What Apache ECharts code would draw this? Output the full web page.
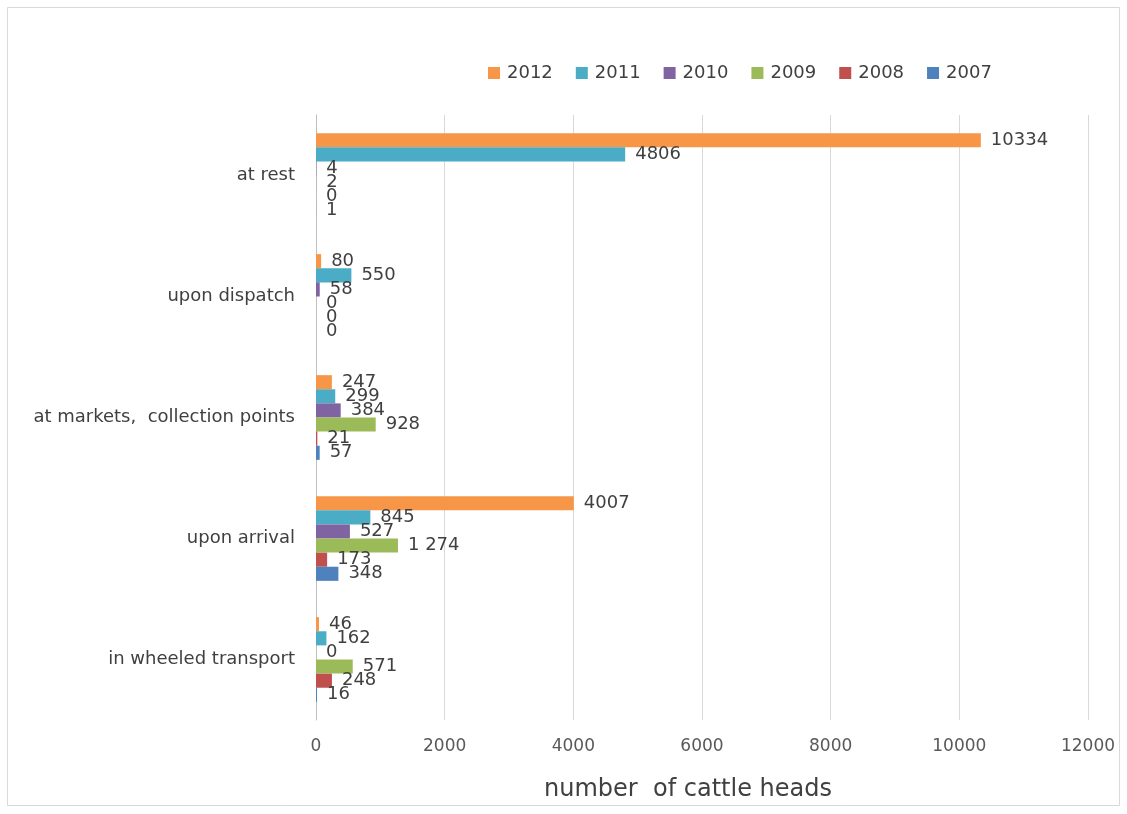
<!DOCTYPE html>
<html>
<head>
<meta charset="utf-8">
<script src="https://cdn.jsdelivr.net/npm/echarts@6/dist/echarts.min.js"></script>
<style>
html,body{margin:0;padding:0;background:#fff;}
#chart{width:1127px;height:814px;}
</style>
</head>
<body>
<div id="chart"></div>
<script>
const categories = ['at rest', 'upon dispatch', 'at markets,  collection points', 'upon arrival', 'in wheeled transport'];
const years = ['2012', '2011', '2010', '2009', '2008', '2007'];
const v2012 = [10334, 80, 247, 4007, 46];
const v2011 = [4806, 550, 299, 845, 162];
const v2010 = [4, 58, 384, 527, 0];
const v2009 = [2, 0, 928, 1274, 571];
const v2008 = [0, 0, 21, 173, 248];
const v2007 = [1, 0, 57, 348, 16];
const xTicks = { min: 0, max: 12000, interval: 2000 };
const labelOverrides = { '2009|upon arrival': '1 274' };

const seriesValues = [v2012, v2011, v2010, v2009, v2008, v2007];
const colors = ['#F79646', '#4BACC6', '#8064A2', '#9BBB59', '#C0504D', '#4F81BD'];
const FONT = 'DejaVu Sans';

const chart = echarts.init(document.getElementById('chart'));
chart.setOption({
  animation: false,
  backgroundColor: '#fff',
  color: colors,
  graphic: [{
    type: 'rect',
    shape: { x: 7.5, y: 7.5, width: 1112, height: 798 },
    style: { fill: 'none', stroke: '#d9d9d9', lineWidth: 1 },
    silent: true
  }],
  title: {
    text: 'number  of cattle heads',
    left: 683, top: 773, textAlign: 'center',
    textStyle: { fontFamily: FONT, fontSize: 24, fontWeight: 'normal', color: '#404040' }
  },
  legend: {
    data: years,
    top: 59, left: 483,
    itemWidth: 12, itemHeight: 12, itemGap: 23,
    icon: 'rect',
    textStyle: { fontFamily: FONT, fontSize: 18, color: '#404040', padding: [0, 0, 0, 2] }
  },
  grid: { left: 316, right: 39, top: 115, bottom: 94, containLabel: false },
  xAxis: {
    type: 'value',
    min: xTicks.min, max: xTicks.max, interval: xTicks.interval,
    axisLine: { show: false }, axisTick: { show: false },
    splitLine: { lineStyle: { color: '#d9d9d9', width: 1 } },
    axisLabel: { fontFamily: FONT, fontSize: 17, color: '#595959', margin: 18, formatter: v => String(v) }
  },
  yAxis: {
    type: 'category', inverse: true, data: categories,
    axisLine: { lineStyle: { color: '#bfbfbf' } },
    axisTick: { show: false },
    axisLabel: { fontFamily: FONT, fontSize: 18, color: '#404040', margin: 21 }
  },
  series: years.map((y, i) => ({
    name: y, type: 'bar',
    data: seriesValues[i],
    barGap: '0%', barCategoryGap: '30%',
    label: {
      show: true, position: 'right', distance: 10,
      fontFamily: FONT, fontSize: 18, color: '#404040',
      formatter: p => labelOverrides[y + '|' + p.name] || String(p.value)
    }
  }))
});
</script>
</body>
</html>
